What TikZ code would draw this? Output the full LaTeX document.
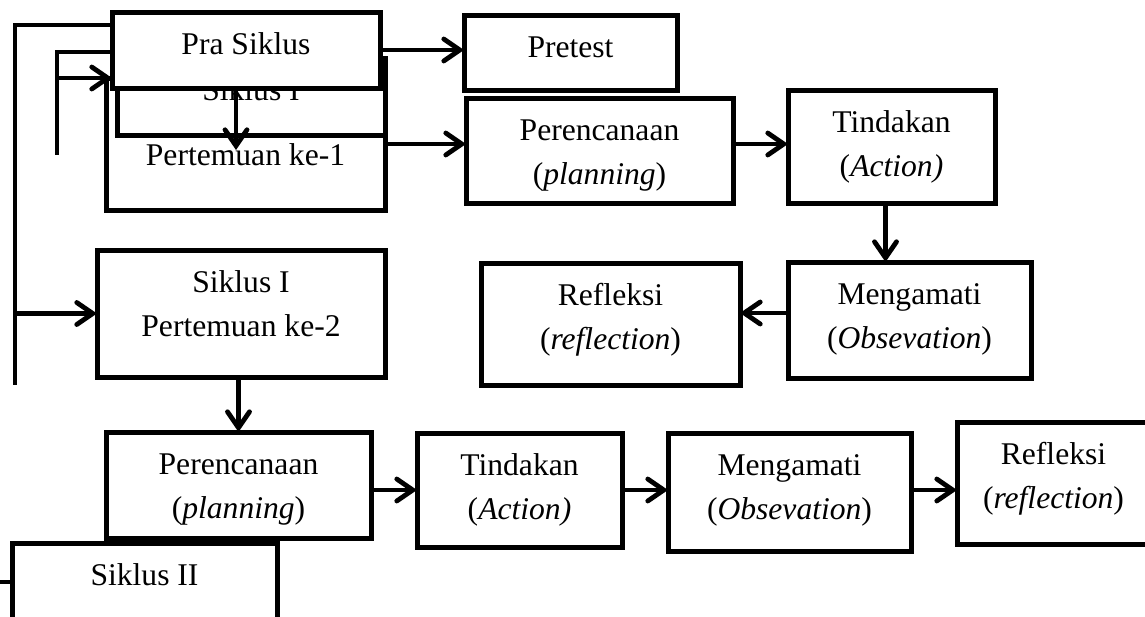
\documentclass[tikz,border=0pt]{standalone}
\usepackage{fontspec}
\setmainfont{Liberation Serif}
\usetikzlibrary{arrows.meta}

\begin{document}
\begin{tikzpicture}[x=0.5pt, y=-0.5pt,
    box/.style={rectangle, draw=black, line width=2.5pt, fill=white, outer sep=0pt, inner sep=0pt},
    txt/.style={anchor=base, yshift=-21pt, align=center, font=\fontsize{15.8pt}{22pt}\selectfont},
    txtii/.style={txt, yshift=-22pt},
    line/.style={line width=2.4pt},
    arr/.style={line, -{Straight Barb[length=8pt, width=11pt, line cap=round]}}]

\useasboundingbox (0,0) rectangle (1145,616);
\clip (0,0) rectangle (1145,616);

% Pra siklus and the stacked boxes of cycle I
\node (pt1) [box, minimum width=139.5pt, minimum height=66pt,
    label={[txt, yshift=-22.5pt]north:Pertemuan ke-1}] at (245.5,144) {};
\node (s1)  [box, minimum width=134pt, minimum height=38.5pt,
    label={[txt]north:Siklus I}] at (251,96.5) {};
\node (pra) [box, minimum width=134pt, minimum height=38pt,
    label={[txt]north:Pra Siklus}] at (246,50) {};
\node (pre) [box, minimum width=106.5pt, minimum height=37.5pt,
    label={[txt]north:Pretest}] at (570.5,52.5) {};

% Cycle I, meeting 1
\node (pr1) [box, minimum width=133.5pt, minimum height=52.5pt,
    label={[txtii]north:{Perencanaan\\(\textit{planning})}}] at (599.5,150.5) {};
\node (td1) [box, minimum width=103.5pt, minimum height=56.5pt,
    label={[txtii]north:{Tindakan\\(\textit{Action)}}}] at (891.5,146.5) {};
\node (mg1) [box, minimum width=121.5pt, minimum height=58pt,
    label={[txtii]north:{Mengamati\\(\textit{Obsevation})}}] at (909.5,320) {};
\node (rf1) [box, minimum width=129.5pt, minimum height=61pt,
    label={[txtii]north:{Refleksi\\(\textit{reflection})}}] at (610.5,324) {};

% Cycle I, meeting 2
\node (s1p2) [box, minimum width=144pt, minimum height=63.5pt,
    label={[txtii]north:{Siklus I\\Pertemuan ke-2}}] at (241,313.5) {};
\node (pr2) [box, minimum width=132.5pt, minimum height=53pt,
    label={[txtii]north:{Perencanaan\\(\textit{planning})}}] at (238.5,485) {};
\node (td2) [box, minimum width=102.5pt, minimum height=57pt,
    label={[txtii]north:{Tindakan\\(\textit{Action)}}}] at (519.5,490) {};
\node (mg2) [box, minimum width=121.5pt, minimum height=59pt,
    label={[txtii]north:{Mengamati\\(\textit{Obsevation})}}] at (789.5,492) {};
\node (rf2) [box, minimum width=96.5pt, minimum height=61pt,
    label={[txtii]north:{Refleksi\\(\textit{reflection})}}] at (1053.5,483) {};

% Cycle II
\node (s2) [box, minimum width=132.5pt, minimum height=68.5pt,
    label={[txt]north:Siklus II}] at (144.5,611.5) {};

% free ends
\coordinate (p1tip) at (236,150);
\coordinate (inEnd) at (57,155);
\coordinate (inTip) at (112,78);
\coordinate (inTop) at (112,52);
\coordinate (outEnd) at (15,385);
\coordinate (outTop) at (112,25);
\coordinate (s2stub) at (0,582);

% arrows -- top row
\draw [arr] (pra.south -| p1tip) -- (p1tip);
\draw [arr] (pra.east) -- (pra.east -| pre.west);
\draw [arr] (pt1.east) -- (pt1.east -| pr1.west);
\draw [arr] (pt1.east -| pr1.east) -- (pt1.east -| td1.west);
\draw [arr] ([xshift=-3pt]td1.south) -- ([xshift=-3pt]td1.south |- mg1.north);
\draw [arr] ([yshift=3.5pt]mg1.west) -- ([yshift=3.5pt]mg1.west -| rf1.east);
% feedback lines on the left
\draw [line] (inTop) -| (inEnd);
\draw [arr] (inEnd |- inTip) -- (inTip);
\draw [line] (outTop) -| (outEnd);
\draw [arr] (outEnd |- s1p2.west) -- (s1p2.west);
% arrows -- bottom row
\draw [arr] (pr2.north |- s1p2.south) -- (pr2.north);
\draw [arr] (td2.west -| pr2.east) -- (td2.west);
\draw [arr] (td2.east) -- (td2.east -| mg2.west);
\draw [arr] (td2.east -| mg2.east) -- (td2.east -| rf2.west);
\draw [line] (s2stub) -- (s2stub -| s2.west);
\end{tikzpicture}
\end{document}
